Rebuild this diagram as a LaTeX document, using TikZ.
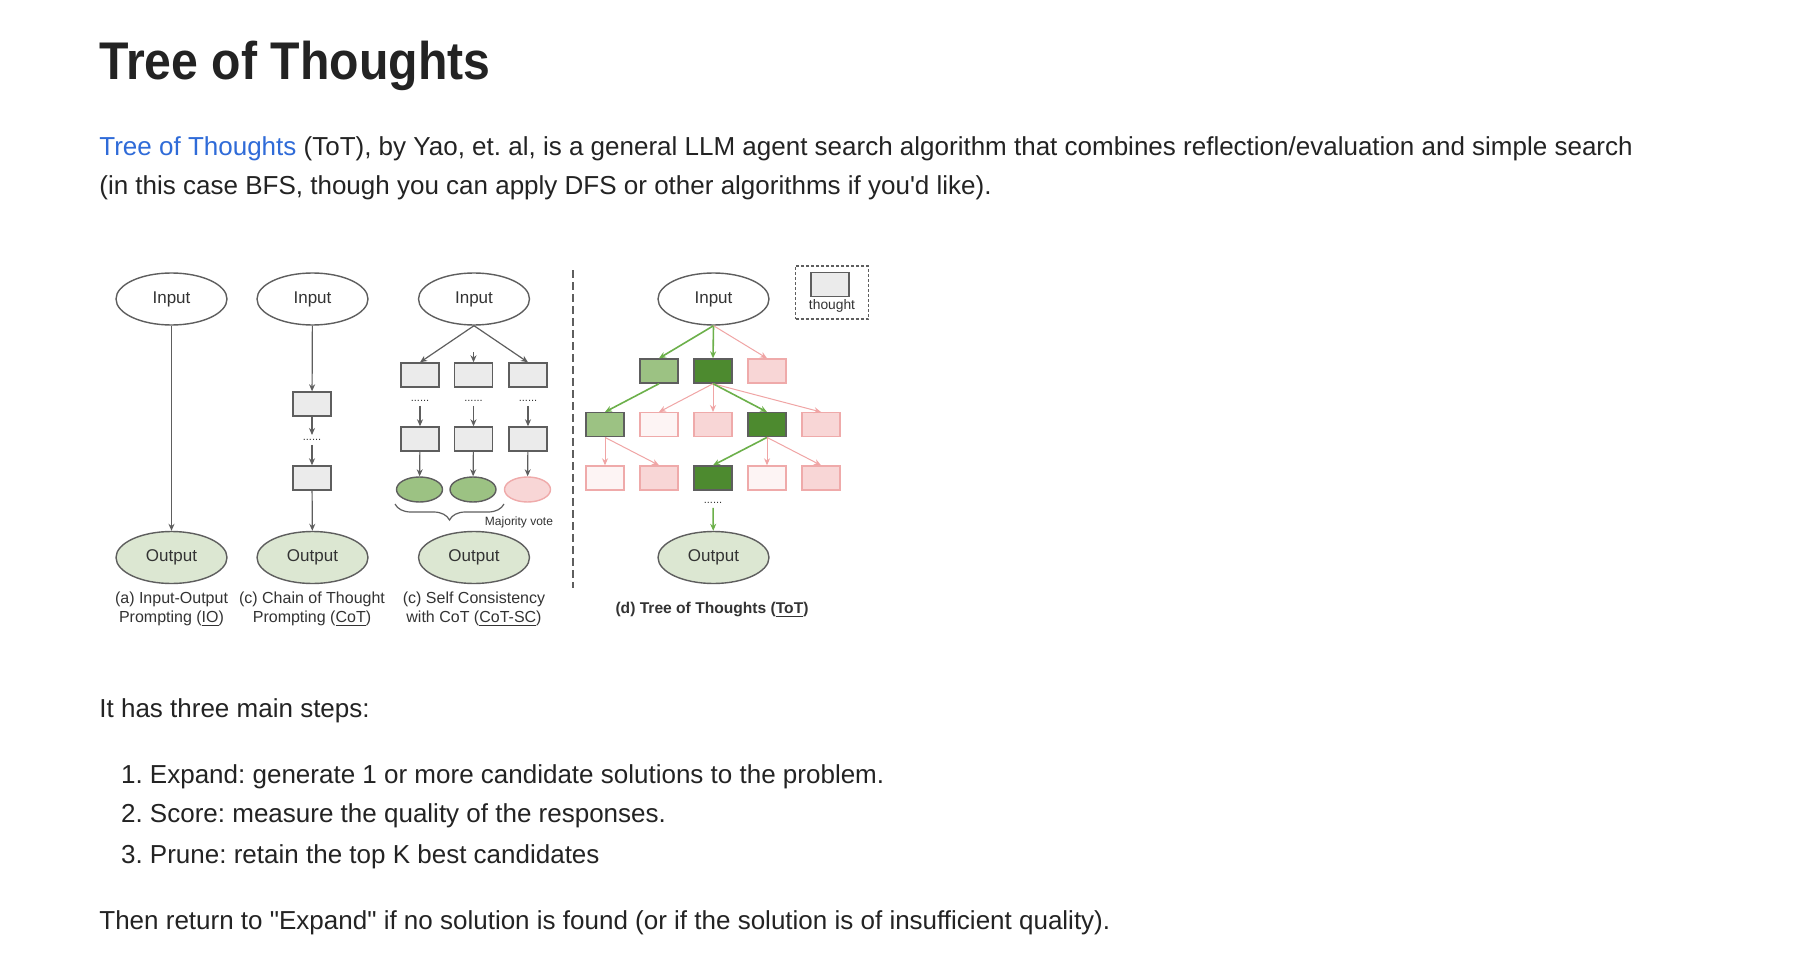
\documentclass[tikz,border=0pt]{standalone}
\usepackage{graphicx}
\usepackage{fontspec}
\setmainfont{Liberation Sans}
\usetikzlibrary{positioning,arrows.meta,shapes.geometric,decorations.pathreplacing,fit}
\frenchspacing
\definecolor{cText}    {HTML}{232323}
\definecolor{cLink}    {HTML}{2F6BD8}
\definecolor{cEdge}    {HTML}{5E5E5E}
\definecolor{cLbl}     {HTML}{333333}
\definecolor{cBox}     {HTML}{EBEBEB}
\definecolor{cOut}     {HTML}{DCE7D2}
\definecolor{cLight}   {HTML}{9CC283}
\definecolor{cDark}    {HTML}{4D8A2F}
\definecolor{cPink}    {HTML}{F8D6D6}
\definecolor{cPale}    {HTML}{FDF4F4}
\definecolor{cPinkEdge}{HTML}{EFAAAA}
\definecolor{cGreen}   {HTML}{6CB04A}
\definecolor{cPinkArr} {HTML}{F0A5A5}

\begin{document}
\begin{tikzpicture}[x=0.5pt,y=-0.5pt,
    body/.style={anchor=base west,inner sep=0pt,text=cText,font=\fontsize{13}{16}\selectfont},
    inp/.style={ellipse,draw=cEdge,line width=0.7pt,fill=white,minimum width=55.5pt,
      minimum height=26pt,inner sep=0pt,text=cLbl,font=\fontsize{8.5}{10}\selectfont},
    outp/.style={inp,fill=cOut},
    thought/.style={draw=cEdge,line width=0.7pt,fill=cBox,minimum width=19pt,minimum height=12pt,inner sep=0pt},
    good/.style={thought,fill=cLight},
    best/.style={thought,fill=cDark},
    bad/.style={thought,draw=cPinkEdge,fill=cPink},
    weak/.style={bad,fill=cPale},
    vote/.style={ellipse,draw=cEdge,line width=0.7pt,fill=cLight,minimum width=23pt,minimum height=12.5pt,inner sep=0pt},
    badvote/.style={vote,draw=cPinkEdge,fill=cPink},
    dots/.style={inner xsep=0.5pt,inner ysep=2pt,text=cLbl,font=\fontsize{5.5}{5}\selectfont},
    arr/.style={draw=cEdge,line width=0.6pt,-{Stealth[length=3.5pt,width=3pt]}},
    garr/.style={arr,draw=cGreen,line width=0.8pt},
    parr/.style={arr,draw=cPinkArr,line width=0.5pt},
    capt/.style={align=center,inner sep=0pt,text=cLbl,font=\fontsize{8}{9.5}\selectfont}]
  \fill[white] (0,0) rectangle (1802,952);
  \useasboundingbox (0,0) rectangle (1802,952);

  % page text
  \node[body,font=\bfseries\fontsize{24.1}{27}\selectfont] (title) at (99,80) {\scalebox{1}[1.1]{Tree of Thoughts}};
  \node[body] (p1) at (99,155.7) {\textcolor{cLink}{Tree of Thoughts} (ToT), by Yao, et. al, is a general LLM agent search algorithm that combines reflection/evaluation and simple search};
  \node[body] (p2) at (99,195) {(in this case BFS, though you can apply DFS or other algorithms if you\textquotesingle d like).};
  \node[body] (p3) at (99,717.7) {It has three main steps:};
  \node[body] (s1) at (120.7,783.3) {1. Expand: generate 1 or more candidate solutions to the problem.};
  \node[body] (s2) at (120.7,822.7) {2. Score: measure the quality of the responses.};
  \node[body] (s3) at (120.7,863.3) {3. Prune: retain the top K best candidates};
  \node[body] (p4) at (99,929.3) {Then return to \textquotedbl Expand\textquotedbl\ if no solution is found (or if the solution is of insufficient quality).};

  % (a) IO
  \node[inp] (ain) at (171.5,299) {Input};
  \node[outp] (aout) at (171.5,557.5) {Output};
  \draw[arr] (ain) -- (aout);
  \node[capt] (acap) at (171.5,609.5) {(a) Input-Output\\Prompting (\underline{IO})};

  % (c) CoT
  \node[inp] (cin) at (312.5,299) {Input};
  \node[thought] (cb1) at (312,404) {};
  \node[dots] (cd) at (312,440) {......};
  \node[thought] (cb2) at (312,478) {};
  \node[outp] (cout) at (312.5,557.5) {Output};
  \draw[arr] (cin) -- (cb1);
  \draw[arr] (cb1) -- (cd);
  \draw[arr] (cd) -- (cb2);
  \draw[arr] (cb2) -- (cout);
  \node[capt] (ccap) at (312,609.5) {(c) Chain of Thought\\Prompting (\underline{CoT})};

  % (c) CoT-SC
  \node[inp] (sin) at (474,299) {Input};
  \foreach \x/\v [count=\i] in {420/vote,473.5/vote,528/badvote} {
    \node[thought] (s1\i) at (\x,375) {};
    \node[dots] (sd\i) at (\x,401) {......};
    \node[thought] (s2\i) at (\x,439) {};
    \node[\v] (e\i) at (\x-0.5,489.5) {};
    \draw[arr] (sd\i) -- (s2\i);
    \draw[arr] (s2\i) -- (e\i);
  }
  \coordinate (sm) at (473.5,352);
  \draw[arr] (sin.south) -- (s11.north);
  \draw[arr] (sm) -- (s12.north);
  \draw[arr] (sin.south) -- (s13.north);
  \draw[cEdge,line width=0.6pt,decorate,decoration={brace,mirror,amplitude=8pt}] (395,504) -- (504,504);
  \node[text=cLbl,font=\fontsize{6}{7}\selectfont,inner sep=0pt] (mv) at (519,522) {Majority vote};
  \node[outp] (sout) at (474,557.5) {Output};
  \node[capt] (scap) at (474,609.5) {(c) Self Consistency\\with CoT (\underline{CoT-SC})};

  \draw[cEdge,line width=0.8pt,dash pattern=on 4pt off 2pt] (573,270) -- (573,588);

  % (d) ToT
  \node[inp] (tin) at (713.5,299) {Input};
  \foreach \x/\s [count=\i] in {659/good,713/best,767/bad}
    \node[\s] (r1\i) at (\x,371) {};
  \foreach \x/\s [count=\i] in {605/good,659/weak,713/bad,767/best,821/bad}
    \node[\s] (r2\i) at (\x,424.7) {};
  \foreach \x/\s [count=\i] in {605/weak,659/bad,713/best,767/weak,821/bad}
    \node[\s] (r3\i) at (\x,478) {};
  \node[dots] (td) at (713,503) {......};
  \node[outp] (tout) at (713.5,557.5) {Output};

  \draw[garr] (tin.south) -- (r11.north);
  \draw[garr] (tin.south) -- (r12.north);
  \draw[parr] (tin.south) -- (r13.north);
  \draw[garr] (r11.south) -- (r21.north);
  \foreach \j in {2,3,5} \draw[parr] (r12.south) -- (r2\j.north);
  \draw[garr] (r12.south) -- (r24.north);
  \foreach \j in {1,2} \draw[parr] (r21.south) -- (r3\j.north);
  \draw[garr] (r24.south) -- (r33.north);
  \foreach \j in {4,5} \draw[parr] (r24.south) -- (r3\j.north);
  \draw[garr] (td) -- (tout);
  \node[capt,font=\bfseries\fontsize{7.8}{9}\selectfont] (tcap) at (712,610) {(d) Tree of Thoughts (\underline{ToT})};

  % legend
  \node[thought] (lg) at (830,284.7) {};
  \node[text=cLbl,font=\fontsize{6.9}{8}\selectfont,inner sep=0pt] (lgt) at (832,306) {thought};
  \node[draw=cEdge,line width=0.7pt,dash pattern=on 1.5pt off 1pt,inner xsep=6.5pt,inner ysep=3pt,fit=(lg)(lgt)] (lgbox) {};
\end{tikzpicture}
\end{document}
